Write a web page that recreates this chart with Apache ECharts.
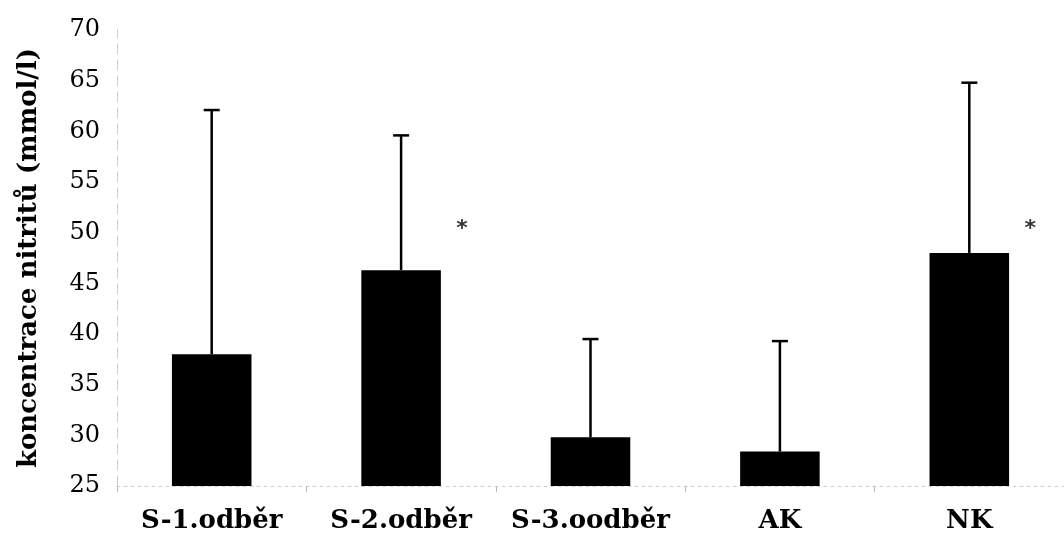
<!DOCTYPE html>
<html>
<head>
<meta charset="utf-8">
<script src="https://cdn.jsdelivr.net/npm/echarts@6/dist/echarts.min.js"></script>
<style>
  html, body { margin: 0; padding: 0; background: #fff; }
  #chart { width: 1064px; height: 539px; }
</style>
</head>
<body>
<div id="chart"></div>
<script>
// Nitrite concentration per sampling group: mean with upward SD
const categories = ['S-1.odběr', 'S-2.odběr', 'S-3.oodběr', 'AK', 'NK'];
const means = [38.0, 46.3, 29.8, 28.4, 48.0];
const sds = [24.1, 13.3, 9.7, 10.9, 16.8];
const significance = ['', '*', '', '', '*'];
const starLevel = 50.6;
const yTicks = { min: 25, max: 70, step: 5 };

const serif = '"DejaVu Serif", "Liberation Serif", serif';

const chart = echarts.init(document.getElementById('chart'), null, { renderer: 'canvas' });

chart.setOption({
  animation: false,
  backgroundColor: '#ffffff',
  grid: { left: 117, right: -8, top: 30, bottom: 53, containLabel: false },
  xAxis: {
    type: 'category',
    data: categories,
    axisLine: { show: true, lineStyle: { color: '#d0d0d0', width: 1, type: [3, 4] } },
    axisTick: { show: true, interval: 0, length: 6, lineStyle: { color: '#b8b8b8' } },
    axisLabel: {
      interval: 0, hideOverlap: false,
      color: '#000', fontFamily: serif, fontWeight: 'bold', fontSize: 26, margin: 22
    },
    splitLine: { show: false }
  },
  yAxis: {
    type: 'value',
    min: yTicks.min,
    max: yTicks.max,
    interval: yTicks.step,
    name: 'koncentrace nitritů (mmol/l)',
    nameLocation: 'middle',
    nameGap: 75,
    nameRotate: 90,
    nameTextStyle: { color: '#000', fontFamily: serif, fontWeight: 'bold', fontSize: 26 },
    axisLine: { show: true, lineStyle: { color: '#cccccc', width: 1, type: [10, 6] } },
    axisTick: { show: false },
    axisLabel: { color: '#000', fontFamily: serif, fontSize: 24, margin: 17 },
    splitLine: { show: false }
  },
  series: [
    {
      type: 'bar',
      data: means,
      barWidth: '42%',
      itemStyle: { color: '#000' },
      z: 2
    },
    {
      type: 'custom',
      z: 3,
      data: means.map((m, i) => [i, m, m + sds[i]]),
      renderItem: function (params, api) {
        const base = api.coord([api.value(0), api.value(1)]);
        const top = api.coord([api.value(0), api.value(2)]);
        const half = 8;
        return {
          type: 'group',
          children: [
            { type: 'line', shape: { x1: base[0], y1: base[1], x2: top[0], y2: top[1] },
              style: { stroke: '#000', lineWidth: 2.5 } },
            { type: 'line', shape: { x1: top[0] - half, y1: top[1], x2: top[0] + half, y2: top[1] },
              style: { stroke: '#000', lineWidth: 2.5 } }
          ]
        };
      }
    },
    {
      type: 'scatter',
      symbolSize: 0,
      data: significance.map((s, i) => (s ? { value: [i, starLevel], mark: s } : null)).filter(Boolean),
      label: {
        show: true,
        formatter: p => p.data.mark,
        position: 'inside',
        offset: [61, 3],
        color: '#000',
        fontFamily: '"DejaVu Sans", sans-serif',
        fontWeight: 'bold',
        fontSize: 22
      },
      z: 4
    }
  ]
});
</script>
</body>
</html>
